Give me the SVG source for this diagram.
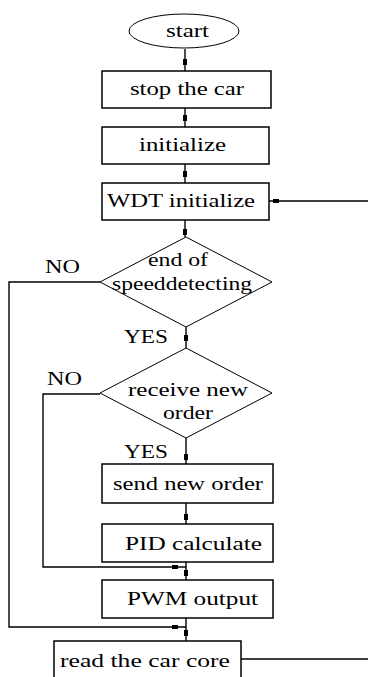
<svg xmlns="http://www.w3.org/2000/svg" xmlns:xlink="http://www.w3.org/1999/xlink" width="368" height="677" viewBox="0 0 368 677">
<style>
  .box{fill:#fff;stroke:#000;stroke-width:1.5}
  .dia{fill:#fff;stroke:#000;stroke-width:1}
  .ln{fill:none;stroke:#000;stroke-width:1.4}
  text{font-family:"Liberation Serif","Times New Roman",serif;font-size:19px;fill:#000}
</style>
<defs>
  <rect id="dv" x="-2" y="-3" width="4" height="6" fill="#000"/>
  <rect id="dh" x="-3" y="-2" width="6" height="4" fill="#000"/>
</defs>
<rect width="368" height="677" fill="#fff"/>
<g id="connectors">
  <path class="ln" d="M185 49 V71 M185 108 V127 M185 164 V183 M185 220 V237 M186 327 V348 M186 438 V464 M186 503 V524 M186 562 V580 M186 618 V641"/>
  <path class="ln" d="M100 282 H9 V627 H186"/>
  <path class="ln" d="M100 394 H43 V567 H186"/>
  <path class="ln" d="M269 201 H368"/>
  <path class="ln" d="M241 659 H368"/>
  <use xlink:href="#dv" x="185" y="62"/>
  <use xlink:href="#dv" x="185" y="118"/>
  <use xlink:href="#dv" x="185" y="174"/>
  <use xlink:href="#dv" x="185" y="232"/>
  <use xlink:href="#dv" x="186" y="338"/>
  <use xlink:href="#dv" x="186" y="457"/>
  <use xlink:href="#dv" x="186" y="517"/>
  <use xlink:href="#dv" x="186" y="573"/>
  <use xlink:href="#dv" x="186" y="633"/>
  <use xlink:href="#dh" x="175" y="567"/>
  <use xlink:href="#dh" x="175" y="627"/>
  <use xlink:href="#dh" x="276" y="201"/>
</g>
<g id="start">
  <ellipse class="dia" cx="184" cy="31" rx="55" ry="17"/>
  <text x="166" y="37" textLength="43" lengthAdjust="spacingAndGlyphs">start</text>
</g>
<g id="stop">
  <rect class="box" x="102" y="71" width="169" height="37"/>
  <text x="130" y="95" textLength="114" lengthAdjust="spacingAndGlyphs">stop the car</text>
</g>
<g id="init">
  <rect class="box" x="102" y="127" width="167" height="37"/>
  <text x="139" y="151" textLength="87" lengthAdjust="spacingAndGlyphs">initialize</text>
</g>
<g id="wdt">
  <rect class="box" x="102" y="183" width="167" height="37"/>
  <text x="107" y="207" textLength="148" lengthAdjust="spacingAndGlyphs">WDT initialize</text>
</g>
<g id="d1">
  <polygon class="dia" points="186,237 272,282 186,327 100,282"/>
  <text x="148" y="266" textLength="60" lengthAdjust="spacingAndGlyphs">end of</text>
  <text x="112" y="290" textLength="140" lengthAdjust="spacingAndGlyphs">speeddetecting</text>
</g>
<text x="45" y="273" textLength="35" lengthAdjust="spacingAndGlyphs">NO</text>
<text x="124" y="343" textLength="44" lengthAdjust="spacingAndGlyphs">YES</text>
<g id="d2">
  <polygon class="dia" points="186,348 272,393 186,438 100,393"/>
  <text x="128" y="396" textLength="120" lengthAdjust="spacingAndGlyphs">receive new</text>
  <text x="163" y="419" textLength="50" lengthAdjust="spacingAndGlyphs">order</text>
</g>
<text x="47" y="385" textLength="35" lengthAdjust="spacingAndGlyphs">NO</text>
<text x="124" y="458" textLength="44" lengthAdjust="spacingAndGlyphs">YES</text>
<g id="send">
  <rect class="box" x="102" y="464" width="171" height="39"/>
  <text x="113" y="490" textLength="150" lengthAdjust="spacingAndGlyphs">send new order</text>
</g>
<g id="pid">
  <rect class="box" x="102" y="524" width="171" height="38"/>
  <text x="125" y="550" textLength="137" lengthAdjust="spacingAndGlyphs">PID calculate</text>
</g>
<g id="pwm">
  <rect class="box" x="102" y="580" width="171" height="38"/>
  <text x="127" y="605" textLength="131" lengthAdjust="spacingAndGlyphs">PWM output</text>
</g>
<g id="read">
  <rect class="box" x="54" y="641" width="187" height="40"/>
  <text x="60" y="667" textLength="170" lengthAdjust="spacingAndGlyphs">read the car core</text>
</g>
</svg>
